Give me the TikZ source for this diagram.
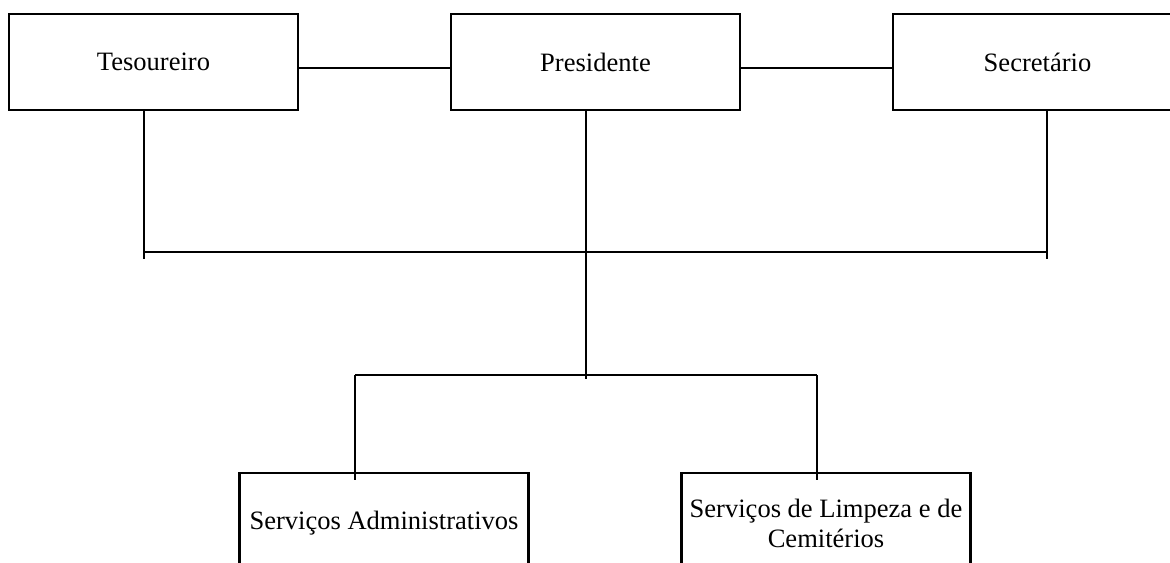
\documentclass[tikz,border=0pt]{standalone}
\usepackage{fontspec}
\setmainfont{Liberation Serif}
\usepackage{tikz}
\usetikzlibrary{positioning}

\begin{document}
\begin{tikzpicture}[x=0.75pt,y=-0.75pt,line width=1.9pt,
		cargo/.style={draw, rectangle, inner sep=0pt, minimum width=216.75pt, minimum height=72pt,
			font=\fontsize{19.9}{22.5}\selectfont},
		servico/.style={cargo, minimum height=75pt, align=center}]
		\useasboundingbox (0,0) rectangle (1170,562);
		\clip (0,0) rectangle (1170,562);

		% Cargos
		\node[cargo] (tes) at (153.5,62) {Tesoureiro};
		\node[cargo] (pres) at (595.5,62) {Presidente};
		\node[cargo] (sec) at (1037.5,62) {Secret\'ario};

		% Servicos
		\node[servico] (adm) at (384,523) {Servi\c{c}os Administrativos};
		\node[servico] (limp) at (826,523) {Servi\c{c}os de Limpeza e de\\Cemit\'erios};

		% Koordinaten
		\coordinate (tl) at (144,259);
		\coordinate (tr) at (1047,259);
		\coordinate (barra) at (586,252);
		\coordinate (pf) at (586,379);
		\coordinate (lb) at (355,375);
		\coordinate (rb) at (817,375);
		\coordinate (la) at (355,480);
		\coordinate (ra) at (817,480);

		% Linien
		\draw ([yshift=-4.5pt]tes.east) -- ([yshift=-4.5pt]tes.east -| pres.west);
		\draw ([yshift=-4.5pt]pres.east) -- ([yshift=-4.5pt]pres.east -| sec.west);
		\draw (tes.south -| tl) -- (tl);
		\draw (sec.south -| tr) -- (tr);
		\draw (tl |- barra) -- (tr |- barra);
		\draw (pres.south -| pf) -- (pf);
		\draw (lb) -- (rb);
		\draw (lb) -- (la);
		\draw (rb) -- (ra);
	\end{tikzpicture}
\end{document}
